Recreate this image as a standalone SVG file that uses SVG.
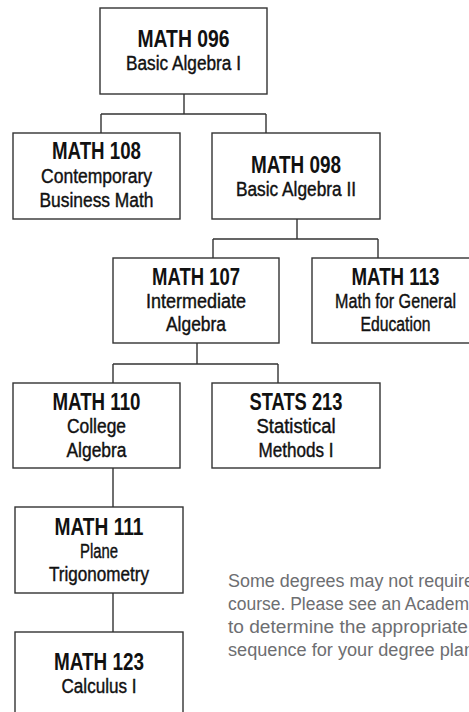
<svg xmlns="http://www.w3.org/2000/svg" width="469" height="712" viewBox="0 0 469 712">
<style>
.box{fill:#fff;stroke:#333;stroke-width:1.4}
.ln{fill:none;stroke:#333;stroke-width:1.4}
.t{font-family:"Liberation Sans",Arial,sans-serif;font-weight:bold;font-size:23.5px;fill:#111;text-anchor:middle}
.s{font-family:"Liberation Sans",Arial,sans-serif;font-size:19.5px;fill:#111;text-anchor:middle;stroke:#111;stroke-width:0.4}
.n{font-family:"Liberation Sans",Arial,sans-serif;font-size:18px;fill:#6d6e71}
</style>
<rect width="469" height="712" fill="#fff"/>
<g id="connectors">
<path class="ln" d="M184 94V114M101 114H266M101 114V133M266 114V133"/>
<path class="ln" d="M297 219V239M213 239H378M213 239V258M378 239V258"/>
<path class="ln" d="M197 343V364M113 364H278M113 364V383M278 364V383"/>
<path class="ln" d="M113 468V507M113 593V632"/>
</g>
<g id="math096"><rect class="box" x="100" y="8" width="167" height="86"/>
<text class="t" x="183.5" y="47" textLength="92" lengthAdjust="spacingAndGlyphs">MATH 096</text>
<text class="s" x="183.5" y="70" textLength="115" lengthAdjust="spacingAndGlyphs">Basic Algebra I</text></g>
<g id="math108"><rect class="box" x="13" y="133" width="167" height="86"/>
<text class="t" x="96.5" y="159" textLength="89" lengthAdjust="spacingAndGlyphs">MATH 108</text>
<text class="s" x="96.5" y="183" textLength="111" lengthAdjust="spacingAndGlyphs">Contemporary</text>
<text class="s" x="96.5" y="207" textLength="114" lengthAdjust="spacingAndGlyphs">Business Math</text></g>
<g id="math098"><rect class="box" x="212" y="133" width="168" height="86"/>
<text class="t" x="296" y="173" textLength="90" lengthAdjust="spacingAndGlyphs">MATH 098</text>
<text class="s" x="296" y="196" textLength="120" lengthAdjust="spacingAndGlyphs">Basic Algebra II</text></g>
<g id="math107"><rect class="box" x="113" y="258" width="166" height="85"/>
<text class="t" x="196" y="285" textLength="88" lengthAdjust="spacingAndGlyphs">MATH 107</text>
<text class="s" x="196" y="308" textLength="100" lengthAdjust="spacingAndGlyphs">Intermediate</text>
<text class="s" x="196" y="331" textLength="60" lengthAdjust="spacingAndGlyphs">Algebra</text></g>
<g id="math113"><rect class="box" x="312" y="258" width="167" height="85"/>
<text class="t" x="395.5" y="285" textLength="88" lengthAdjust="spacingAndGlyphs">MATH 113</text>
<text class="s" x="395.5" y="308" textLength="121" lengthAdjust="spacingAndGlyphs">Math for General</text>
<text class="s" x="395.5" y="331" textLength="70" lengthAdjust="spacingAndGlyphs">Education</text></g>
<g id="math110"><rect class="box" x="13" y="383" width="167" height="85"/>
<text class="t" x="96.5" y="410" textLength="88" lengthAdjust="spacingAndGlyphs">MATH 110</text>
<text class="s" x="96.5" y="433" textLength="59" lengthAdjust="spacingAndGlyphs">College</text>
<text class="s" x="96.5" y="457" textLength="60" lengthAdjust="spacingAndGlyphs">Algebra</text></g>
<g id="stats213"><rect class="box" x="212" y="383" width="168" height="85"/>
<text class="t" x="296" y="410" textLength="93" lengthAdjust="spacingAndGlyphs">STATS 213</text>
<text class="s" x="296" y="433" textLength="79" lengthAdjust="spacingAndGlyphs">Statistical</text>
<text class="s" x="296" y="457" textLength="75" lengthAdjust="spacingAndGlyphs">Methods I</text></g>
<g id="math111"><rect class="box" x="15" y="507" width="168" height="86"/>
<text class="t" x="99" y="535" textLength="89" lengthAdjust="spacingAndGlyphs">MATH 111</text>
<text class="s" x="99" y="558" textLength="38" lengthAdjust="spacingAndGlyphs">Plane</text>
<text class="s" x="99" y="581" textLength="100" lengthAdjust="spacingAndGlyphs">Trigonometry</text></g>
<g id="math123"><rect class="box" x="15" y="632" width="168" height="86"/>
<text class="t" x="99" y="670" textLength="90" lengthAdjust="spacingAndGlyphs">MATH 123</text>
<text class="s" x="99" y="693" textLength="75" lengthAdjust="spacingAndGlyphs">Calculus I</text></g>
<g id="note">
<text class="n" x="228" y="587" textLength="246" lengthAdjust="spacingAndGlyphs">Some degrees may not require</text>
<text class="n" x="228" y="610" textLength="241" lengthAdjust="spacingAndGlyphs">course. Please see an Academ</text>
<text class="n" x="228" y="633" textLength="240" lengthAdjust="spacingAndGlyphs">to determine the appropriate</text>
<text class="n" x="228" y="656" textLength="246" lengthAdjust="spacingAndGlyphs">sequence for your degree plan</text>
</g>
</svg>
